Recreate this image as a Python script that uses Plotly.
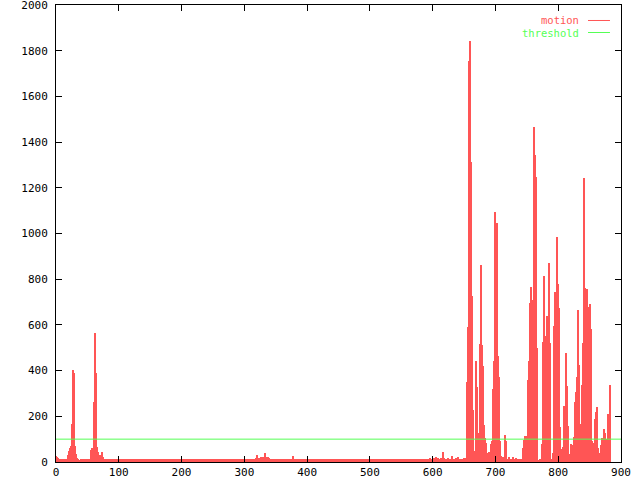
import plotly.graph_objects as go

# ---- data ----
sample_step = 1.593  # frames per sample

motion_start = [25, 22, 18, 15, 12, 13, 11, 12, 14, 12, 11, 13,
                30, 50, 62, 70, 165, 402, 391, 70, 35, 16,
                12, 10, 9, 12, 13, 12, 8, 11, 14, 12, 11, 13, 12,
                53, 60, 62, 264, 565, 388, 67, 45, 23, 30, 15, 44, 20]

motion_quiet = [
    12, 13, 12, 11, 10, 12, 14, 13, 12, 11, 12, 13, 12, 10, 11, 12, 14, 12, 11, 12,
    13, 12, 11, 12, 12, 14, 13, 12, 10, 12, 13, 12, 11, 12, 14, 12, 12, 11, 13, 12,
    12, 11, 10, 12, 13, 14, 12, 12, 11, 12, 13, 12, 12, 10, 12, 14, 13, 12, 11, 12,
    12, 13, 12, 11, 12, 14, 12, 10, 12, 13, 12, 12, 11, 13, 12, 12, 14, 12, 11, 12,
    13, 12, 12, 11, 12, 14, 12, 10, 12, 13, 12, 11, 12, 13, 12, 14, 12, 12, 11, 12,
    12, 13, 12, 11, 12, 14, 12, 12, 10, 13, 12, 11, 12, 13, 12, 14, 12, 12, 11, 12,
    13, 12, 12, 11, 12, 14, 12, 10, 12, 13, 12, 12, 11, 13, 12, 14, 12, 12, 11, 12,
    12, 13, 12, 11, 12, 14, 12, 12, 10, 13, 12, 15, 16,
    32, 14, 16, 18, 22, 16, 20, 15, 41, 22, 18, 20, 16,
    13, 12, 14, 12, 11, 12, 14, 12, 12, 13, 12, 11, 12, 13, 12, 14, 12, 12, 11, 12, 13, 15, 14,
    26,
    14, 12, 12, 11, 12, 14, 12, 12, 10, 13, 12, 11, 12, 13, 12, 14, 12, 12, 11, 12,
    13, 12, 12, 11, 12, 14, 12, 10, 12, 13, 12, 12, 11, 13, 12, 14, 12, 12, 11, 12,
    12, 13, 12, 11, 12, 14, 12, 12, 10, 13, 12, 11, 12, 13, 12, 14, 12, 12, 11, 12,
    13, 12, 12, 11, 12, 14, 12, 10, 12, 13, 12, 12, 11, 13, 12, 14, 12, 12, 11, 12,
    12, 13, 12, 11, 12, 14, 12, 12, 10, 13, 12, 11, 12, 13, 12, 14, 12, 12, 11, 12,
    13, 12, 12, 11, 12, 14, 12, 10, 12, 13, 12, 12, 11, 13, 12, 14, 12, 12, 11, 12,
    12, 13, 12, 11, 12, 14, 12, 12, 10, 13, 12, 11, 12, 13, 12, 14, 16, 14, 15, 18,
    16, 18, 20, 15, 17, 14]

motion_pre = [14, 16, 15, 44, 18, 14, 15, 13, 16, 14, 15, 12, 26, 15, 13,
              14, 16, 15, 20, 14, 13, 15, 14, 12, 16, 18, 15]

motion_burst = [
    351, 592, 1756, 1844, 1314, 726, 228, 48, 35, 443,
    330, 125, 79, 516, 862, 512, 420, 162, 104, 82,
    38, 16, 44, 31, 79, 93, 321, 443, 1096, 610,
    1047, 465, 373, 93, 26, 23, 23, 20, 118, 92,
    15, 14, 23, 15, 14, 13, 20, 15, 14, 16, 13, 15, 14, 12, 15, 14,
    60, 96, 114, 45, 114, 359, 443, 694, 767, 709,
    541, 1465, 1344, 1249, 497, 9, 6, 12, 12, 79,
    527, 814, 551, 417, 639, 578, 869, 519, 6, 12,
    38, 595, 745, 585, 983, 779, 675, 152, 34, 55,
    67, 245, 198, 476, 333, 158, 35, 31, 79, 74,
    50, 108, 261, 308, 373, 665, 424, 114, 166, 337,
    522, 1241, 763, 653, 756, 680, 281, 691, 582, 90,
    85, 45, 187, 220, 239, 60, 28, 38, 74, 106,
    104, 144, 128, 99, 85, 210, 198, 337]

threshold_value = 100
x_range = [0, 900]
y_range = [0, 2000]
x_ticks = [0, 100, 200, 300, 400, 500, 600, 700, 800, 900]
y_ticks = [0, 200, 400, 600, 800, 1000, 1200, 1400, 1600, 1800, 2000]

assert len(motion_start) == 48, len(motion_start)
assert len(motion_quiet) == 336, len(motion_quiet)
assert len(motion_pre) == 27, len(motion_pre)
assert len(motion_burst) == 144, len(motion_burst)

motion = motion_start + motion_quiet + motion_pre + motion_burst
frames = [i * sample_step for i in range(len(motion))]

RED = "#ff5555"
GREEN = "#55ff55"
FONT = "DejaVu Sans Mono"

fig = go.Figure()
fig.add_trace(go.Bar(x=frames, y=motion, width=sample_step,
                     marker=dict(color=RED, line=dict(width=0)),
                     name="motion", showlegend=False))
fig.add_trace(go.Scatter(x=x_range, y=[threshold_value, threshold_value],
                         mode="lines", line=dict(color=GREEN, width=1),
                         name="threshold", showlegend=False))

# gnuplot-style legend: text right, sample line at right
legend_items = [("motion", RED, 0.9661), ("threshold", GREEN, 0.9398)]
for label, col, yp in legend_items:
    fig.add_annotation(x=0.927, y=yp, xref="paper", yref="paper",
                       text=label, showarrow=False, xanchor="right", yanchor="middle",
                       height=10, borderpad=0,
                       font=dict(family=FONT, size=10.5, color=col))
    fig.add_shape(type="line", xref="paper", yref="paper",
                  x0=0.9416, x1=0.9805, y0=yp, y1=yp,
                  line=dict(color=col, width=1))

axis_common = dict(showline=True, linecolor="black", linewidth=1, mirror="ticks",
                   ticks="inside", ticklen=6, tickwidth=1, tickcolor="black",
                   showgrid=False, zeroline=False, automargin=False,
                   ticklabeloverflow="allow",
                   tickfont=dict(family=FONT, size=11, color="black"))

fig.update_xaxes(range=x_range, tickvals=x_ticks, **axis_common)
fig.update_yaxes(range=y_range, tickvals=y_ticks, ticklabelstandoff=5, **axis_common)

fig.update_layout(width=640, height=480,
                  margin=dict(l=56, r=19, t=5, b=18),
                  paper_bgcolor="white", plot_bgcolor="white",
                  bargap=0, showlegend=False)

fig.write_html("out.html", config={"displayModeBar": False},
               post_script="document.body.style.margin='0';document.body.style.overflow='hidden';")
